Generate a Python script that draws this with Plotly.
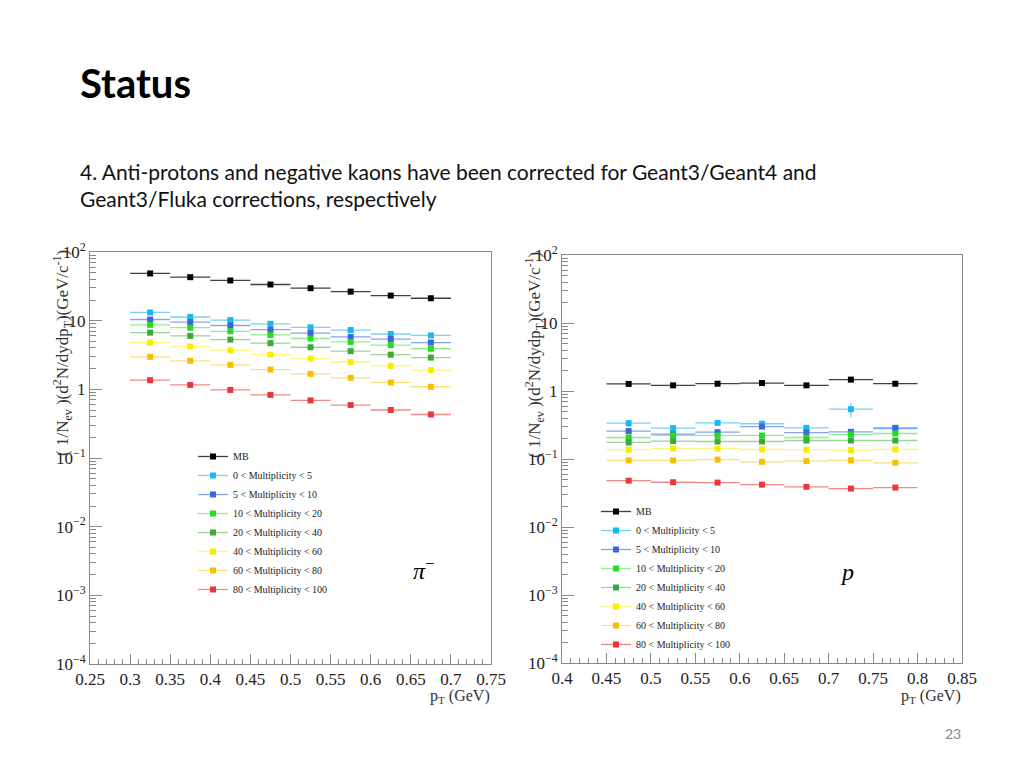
import plotly.graph_objects as go

W, H = 1024, 768

# ---------------- data ----------------
series_names = ["MB", "0 < Multiplicity < 5", "5 < Multiplicity < 10", "10 < Multiplicity < 20",
                "20 < Multiplicity < 40", "40 < Multiplicity < 60", "60 < Multiplicity < 80",
                "80 < Multiplicity < 100"]
series_colors = ["#000000", "#1ab8f0", "#3a66e0", "#22dd22", "#3aaa3a", "#f5ee00", "#f5c000", "#e83838"]
series_line_colors = ["rgba(0,0,0,0.75)", "rgba(26,184,240,0.6)", "rgba(58,102,224,0.6)",
                      "rgba(34,221,34,0.5)", "rgba(58,170,58,0.5)", "rgba(245,238,0,0.5)",
                      "rgba(245,192,0,0.5)", "rgba(232,56,56,0.6)"]

# pi- panel
pi_pt = [0.325, 0.375, 0.425, 0.475, 0.525, 0.575, 0.625, 0.675]
pi_binhalf = 0.025
pi_MB = [48.7, 43.0, 38.5, 33.6, 29.7, 26.5, 23.2, 21.2]
pi_m0_5 = [13.2, 11.3, 10.2, 9.0, 8.0, 7.3, 6.4, 6.1]
pi_m5_10 = [10.4, 9.5, 8.5, 7.4, 6.6, 5.8, 5.4, 4.8]
pi_m10_20 = [8.7, 7.9, 7.0, 6.2, 5.5, 4.9, 4.4, 3.9]
pi_m20_40 = [6.7, 6.0, 5.3, 4.7, 4.1, 3.6, 3.2, 2.9]
pi_m40_60 = [4.8, 4.2, 3.7, 3.2, 2.8, 2.5, 2.2, 1.9]
pi_m60_80 = [2.97, 2.6, 2.27, 1.94, 1.68, 1.47, 1.26, 1.09]
pi_m80_100 = [1.36, 1.16, 0.98, 0.83, 0.69, 0.59, 0.50, 0.43]

# p panel
p_pt = [0.475, 0.525, 0.575, 0.625, 0.675, 0.725, 0.775]
p_binhalf = 0.025
p_MB = [1.27, 1.21, 1.28, 1.31, 1.21, 1.47, 1.28]
p_m0_5 = [0.336, 0.284, 0.34, 0.33, 0.287, 0.54, 0.28]
p_m0_5_err = [0.04, 0.02, 0.025, 0.025, 0.02, 0.13, 0.02]
p_m5_10 = [0.257, 0.232, 0.248, 0.30, 0.245, 0.251, 0.287]
p_m10_20 = [0.207, 0.222, 0.222, 0.222, 0.207, 0.23, 0.237]
p_m20_40 = [0.175, 0.183, 0.181, 0.181, 0.187, 0.187, 0.187]
p_m40_60 = [0.137, 0.142, 0.142, 0.138, 0.137, 0.135, 0.138]
p_m60_80 = [0.0955, 0.0955, 0.098, 0.091, 0.093, 0.0955, 0.088]
p_m80_100 = [0.048, 0.0455, 0.045, 0.042, 0.039, 0.0367, 0.038]

pi_x_ticks = [0.25, 0.3, 0.35, 0.4, 0.45, 0.5, 0.55, 0.6, 0.65, 0.7, 0.75]
pi_x_ticktext = ["0.25", "0.3", "0.35", "0.4", "0.45", "0.5", "0.55", "0.6", "0.65", "0.7", "0.75"]
p_x_ticks = [0.4, 0.45, 0.5, 0.55, 0.6, 0.65, 0.7, 0.75, 0.8, 0.85]
p_x_ticktext = ["0.4", "0.45", "0.5", "0.55", "0.6", "0.65", "0.7", "0.75", "0.8", "0.85"]
y_ticks = [1e-4, 1e-3, 1e-2, 1e-1, 1, 10, 100]
y_ticktext = ["10<sup>−4</sup>", "10<sup>−3</sup>", "10<sup>−2</sup>", "10<sup>−1</sup>", "1", "10", "10<sup>2</sup>"]

pi_series = [pi_MB, pi_m0_5, pi_m5_10, pi_m10_20, pi_m20_40, pi_m40_60, pi_m60_80, pi_m80_100]
p_series = [p_MB, p_m0_5, p_m5_10, p_m10_20, p_m20_40, p_m40_60, p_m60_80, p_m80_100]

# ---------------- helpers ----------------
def px_x(v):
    return v / W

def px_y(v):
    return 1 - v / H

SERIF = "Liberation Serif, Times New Roman, serif"
CLEAR = "rgba(0,0,0,0)"


def bin_trace(pts, vals, errs, half, color, line_color, name, xa, ya, leg):
    """Each bin: marker at centre, horizontal line over the bin width (ROOT style)."""
    xs, ys, ey, mcol = [], [], [], []
    for c, v, e in zip(pts, vals, errs):
        xs += [c, c - half, c + half, None]
        ys += [v, v, v, None]
        ey += [e, 0, 0, 0]
        mcol += [color, CLEAR, CLEAR, CLEAR]
    return go.Scatter(
        x=xs, y=ys, mode="lines+markers", name=name,
        line=dict(color=line_color, width=1.3),
        marker=dict(symbol="square", size=6, color=mcol, line=dict(width=0)),
        error_y=dict(type="data", array=ey, width=0, thickness=1.3, color=line_color),
        xaxis=xa, yaxis=ya, legend=leg, connectgaps=False, hoverinfo="skip")


fig = go.Figure()

for i, name in enumerate(series_names):
    ys = pi_series[i]
    fig.add_trace(bin_trace(pi_pt, ys, [v * 0.03 for v in ys], pi_binhalf,
                            series_colors[i], series_line_colors[i], name, "x", "y", "legend"))

for i, name in enumerate(series_names):
    ys = p_series[i]
    err = p_m0_5_err if i == 1 else [v * 0.03 for v in ys]
    fig.add_trace(bin_trace(p_pt, ys, err, p_binhalf,
                            series_colors[i], series_line_colors[i], name, "x2", "y2", "legend2"))

axis_common = dict(showline=True, linecolor="#888888", linewidth=1, mirror=True,
                   showgrid=False, zeroline=False, ticks="inside", tickcolor="#888888",
                   automargin=False,
                   tickfont=dict(family=SERIF, size=17, color="#222222"))

fig.update_layout(
    width=W, height=H,
    margin=dict(l=0, r=0, t=0, b=0, pad=0, autoexpand=False),
    paper_bgcolor="white", plot_bgcolor="white",
    showlegend=True,
    xaxis=dict(domain=[px_x(90), px_x(491)], range=[0.25, 0.75], anchor="y",
               tickvals=pi_x_ticks, ticktext=pi_x_ticktext, ticklen=10,
               minor=dict(ticks="inside", dtick=0.01, ticklen=5, tickcolor="#888888"),
               **axis_common),
    yaxis=dict(domain=[px_y(664), px_y(252)], type="log", range=[-4, 2], anchor="x",
               tickvals=y_ticks, ticktext=y_ticktext, ticklen=12,
               minor=dict(ticks="inside", dtick="D1", ticklen=6, tickcolor="#888888"),
               **axis_common),
    xaxis2=dict(domain=[px_x(562), px_x(962)], range=[0.4, 0.85], anchor="y2",
                tickvals=p_x_ticks, ticktext=p_x_ticktext, ticklen=10,
                minor=dict(ticks="inside", dtick=0.01, ticklen=5, tickcolor="#888888"),
                **axis_common),
    yaxis2=dict(domain=[px_y(663), px_y(255)], type="log", range=[-4, 2], anchor="x2",
                tickvals=y_ticks, ticktext=y_ticktext, ticklen=12,
                minor=dict(ticks="inside", dtick="D1", ticklen=6, tickcolor="#888888"),
                **axis_common),
    legend=dict(x=px_x(193), y=px_y(442), xanchor="left", yanchor="top",
                bgcolor="rgba(0,0,0,0)", font=dict(family=SERIF, size=10, color="#222222"),
                itemwidth=30, tracegroupgap=0),
    legend2=dict(x=px_x(596), y=px_y(497), xanchor="left", yanchor="top",
                 bgcolor="rgba(0,0,0,0)", font=dict(family=SERIF, size=10, color="#222222"),
                 itemwidth=30, tracegroupgap=0),
)

ytitle = "( 1/N<sub>ev</sub> )(d<sup>2</sup>N/dydp<sub>T</sub>)(GeV/c<sup>-1</sup>)"
annotations = [
    dict(text="<b>Status</b>", x=px_x(78), y=px_y(83), xanchor="left", yanchor="middle",
         font=dict(family="Lato", size=40, color="#000000")),
    dict(text="4. Anti-protons and negative kaons have been corrected for Geant3/Geant4 and",
         x=px_x(78), y=px_y(171), xanchor="left", yanchor="middle",
         font=dict(family="Lato", size=21, color="#111111")),
    dict(text="Geant3/Fluka corrections, respectively",
         x=px_x(78), y=px_y(198), xanchor="left", yanchor="middle",
         font=dict(family="Lato", size=21, color="#111111")),
    dict(text=ytitle, x=px_x(62), y=px_y(248), xanchor="center", yanchor="top", textangle=-90,
         font=dict(family=SERIF, size=17, color="#333333")),
    dict(text=ytitle, x=px_x(535), y=px_y(250), xanchor="center", yanchor="top", textangle=-90,
         font=dict(family=SERIF, size=17, color="#333333")),
    dict(text="p<sub>T</sub> (GeV)", x=px_x(492), y=px_y(696), xanchor="right", yanchor="middle",
         font=dict(family=SERIF, size=16, color="#333333")),
    dict(text="p<sub>T</sub> (GeV)", x=px_x(963), y=px_y(696), xanchor="right", yanchor="middle",
         font=dict(family=SERIF, size=16, color="#333333")),
    dict(text="<i>π</i><sup>−</sup>", x=px_x(424), y=px_y(569), xanchor="center", yanchor="middle",
         font=dict(family=SERIF, size=24, color="#000000")),
    dict(text="<i>p</i>", x=px_x(847), y=px_y(572), xanchor="center", yanchor="middle",
         font=dict(family=SERIF, size=24, color="#000000")),
    dict(text="23", x=px_x(953), y=px_y(733), xanchor="center", yanchor="middle",
         font=dict(family="Lato", size=14, color="#888888")),
]
for a in annotations:
    a.update(xref="paper", yref="paper", showarrow=False)
fig.update_layout(annotations=annotations)

fig.write_html("out.html", config={"displayModeBar": False},
               post_script="document.body.style.margin='0';document.body.style.overflow='hidden';")
